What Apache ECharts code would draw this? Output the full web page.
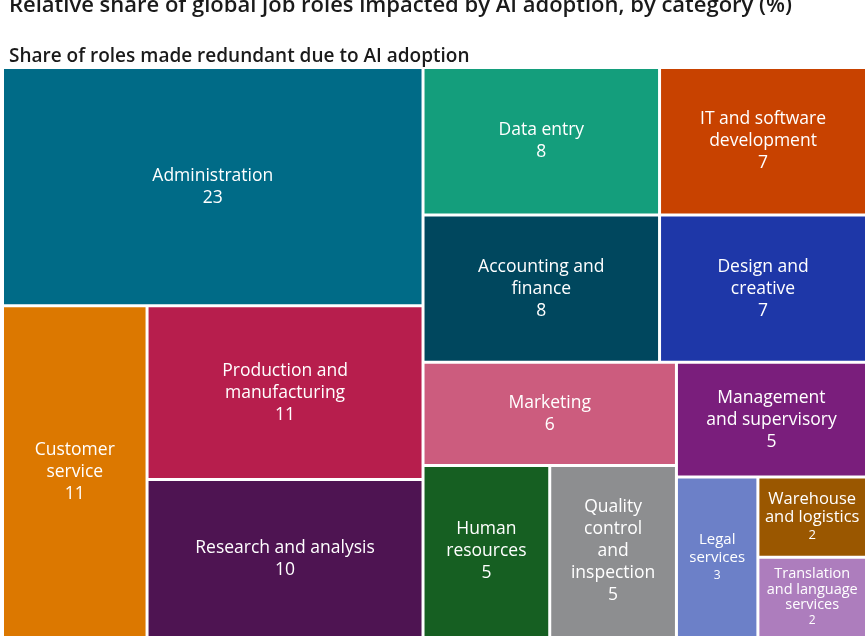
<!DOCTYPE html>
<html>
<head>
<meta charset="utf-8">
<script src="https://cdn.jsdelivr.net/npm/echarts@6/dist/echarts.min.js"></script>
<style>
  html, body { margin: 0; padding: 0; background: #fff; }
  #chart { width: 865px; height: 638px; }
</style>
</head>
<body>
<div id="chart"></div>
<script>
// categories and their share (%) of roles made redundant
const categories = [
    'Administration',
    'Customer service',
    'Production and manufacturing',
    'Research and analysis',
    'Data entry',
    'Accounting and finance',
    'IT and software development',
    'Design and creative',
    'Marketing',
    'Management and supervisory',
    'Human resources',
    'Quality control and inspection',
    'Legal services',
    'Warehouse and logistics',
    'Translation and language services',
];
const shares = [23, 11, 11, 10, 8, 8, 7, 7, 6, 5, 5, 5, 3, 2, 2];

// how the names are broken into lines inside the tiles
const labelLines = [
    'Administration',
    'Customer\nservice',
    'Production and\nmanufacturing',
    'Research and analysis',
    'Data entry',
    'Accounting and\nfinance',
    'IT and software\ndevelopment',
    'Design and\ncreative',
    'Marketing',
    'Management\nand supervisory',
    'Human\nresources',
    'Quality\ncontrol\nand\ninspection',
    'Legal\nservices',
    'Warehouse\nand logistics',
    'Translation\nand language\nservices',
];

const colors = [
    '#006b87', '#dc7800', '#b71e4d', '#4e1452',
    '#149e7c', '#00475e', '#c84200', '#1e37a8',
    '#cc5c7e', '#7a1e7c', '#165f22', '#8d8e90',
    '#6c80c8', '#9a5700', '#ad7dbd',
];

// grouping of the tiles (indexes into categories), so the layout splits like the original
const grouping = [
    [0, [1, [2, 3]]],
    [[[4, 5], [6, 7]], [[8, [10, 11]], [9, [12, [13, 14]]]]],
];

const FONT = 'Open Sans';
const normalText = { name: 17.5, value: 17.5, lh: 22 };
// smaller text for the small tiles
const smallText = {
    12: { name: 15, value: 12, lh: 18 },
    13: { name: 16.5, value: 13, lh: 18 },
    14: { name: 14.5, value: 12, lh: 15.5 },
};

let groupId = 0;
function build(node, padTop) {
    if (typeof node === 'number') {
        const s = smallText[node] || normalText;
        return {
            name: categories[node],
            value: shares[node],
            itemStyle: { color: colors[node] },
            label: {
                padding: [padTop[categories[node]] || 0, 0, 0, 0],
                formatter: labelLines[node].split('\n').map(l => '{n|' + l + '}').join('\n') + '\n{v|' + shares[node] + '}',
                rich: {
                    n: { fontSize: s.name, lineHeight: s.lh, color: '#fff', fontFamily: FONT },
                    v: { fontSize: s.value, lineHeight: s.lh, color: '#fff', fontFamily: FONT },
                },
            },
        };
    }
    groupId++;
    return { name: 'group' + groupId, children: node.map(n => build(n, padTop)) };
}

function textHeight(name) {
    const i = categories.indexOf(name);
    const s = smallText[i] || normalText;
    return (labelLines[i].split('\n').length + 1) * s.lh;
}

const chart = echarts.init(document.getElementById('chart'));

function render(padTop) {
    groupId = 0;
    chart.setOption({
        animation: false,
        title: [
            {
                text: 'Relative share of global job roles impacted by AI adoption, by category (%)',
                left: 4,
                top: -10,
                textStyle: { fontFamily: FONT, fontSize: 22, fontWeight: 600, color: '#1a1a1a' },
            },
            {
                text: 'Share of roles made redundant due to AI adoption',
                left: 4,
                top: 42,
                textStyle: { fontFamily: FONT, fontSize: 19, fontWeight: 600, color: '#1a1a1a' },
            },
        ],
        series: [
            {
                type: 'treemap',
                left: 4,
                top: 69,
                right: 0,
                bottom: 2,
                squareRatio: 1,
                sort: false,
                roam: false,
                nodeClick: false,
                breadcrumb: { show: false },
                itemStyle: { borderWidth: 0, gapWidth: 3, borderColor: '#fff' },
                label: {
                    show: true,
                    position: 'inside',
                    align: 'center',
                    verticalAlign: 'middle',
                },
                upperLabel: { show: false },
                emphasis: { disabled: true },
                data: grouping.map(n => build(n, padTop)),
            },
        ],
    }, true);
}

render({});

// centre the labels vertically using the tile sizes the treemap computed
const tree = chart.getModel().getSeriesByIndex(0).getData().tree;
const padTop = {};
tree.root.eachNode(node => {
    if (node.children && node.children.length) return;
    const lay = node.getLayout();
    if (!lay) return;
    const i = categories.indexOf(node.name);
    if (i < 0) return;
    padTop[node.name] = Math.max(0, (lay.height - textHeight(node.name)) / 2);
});
render(padTop);
</script>
</body>
</html>
